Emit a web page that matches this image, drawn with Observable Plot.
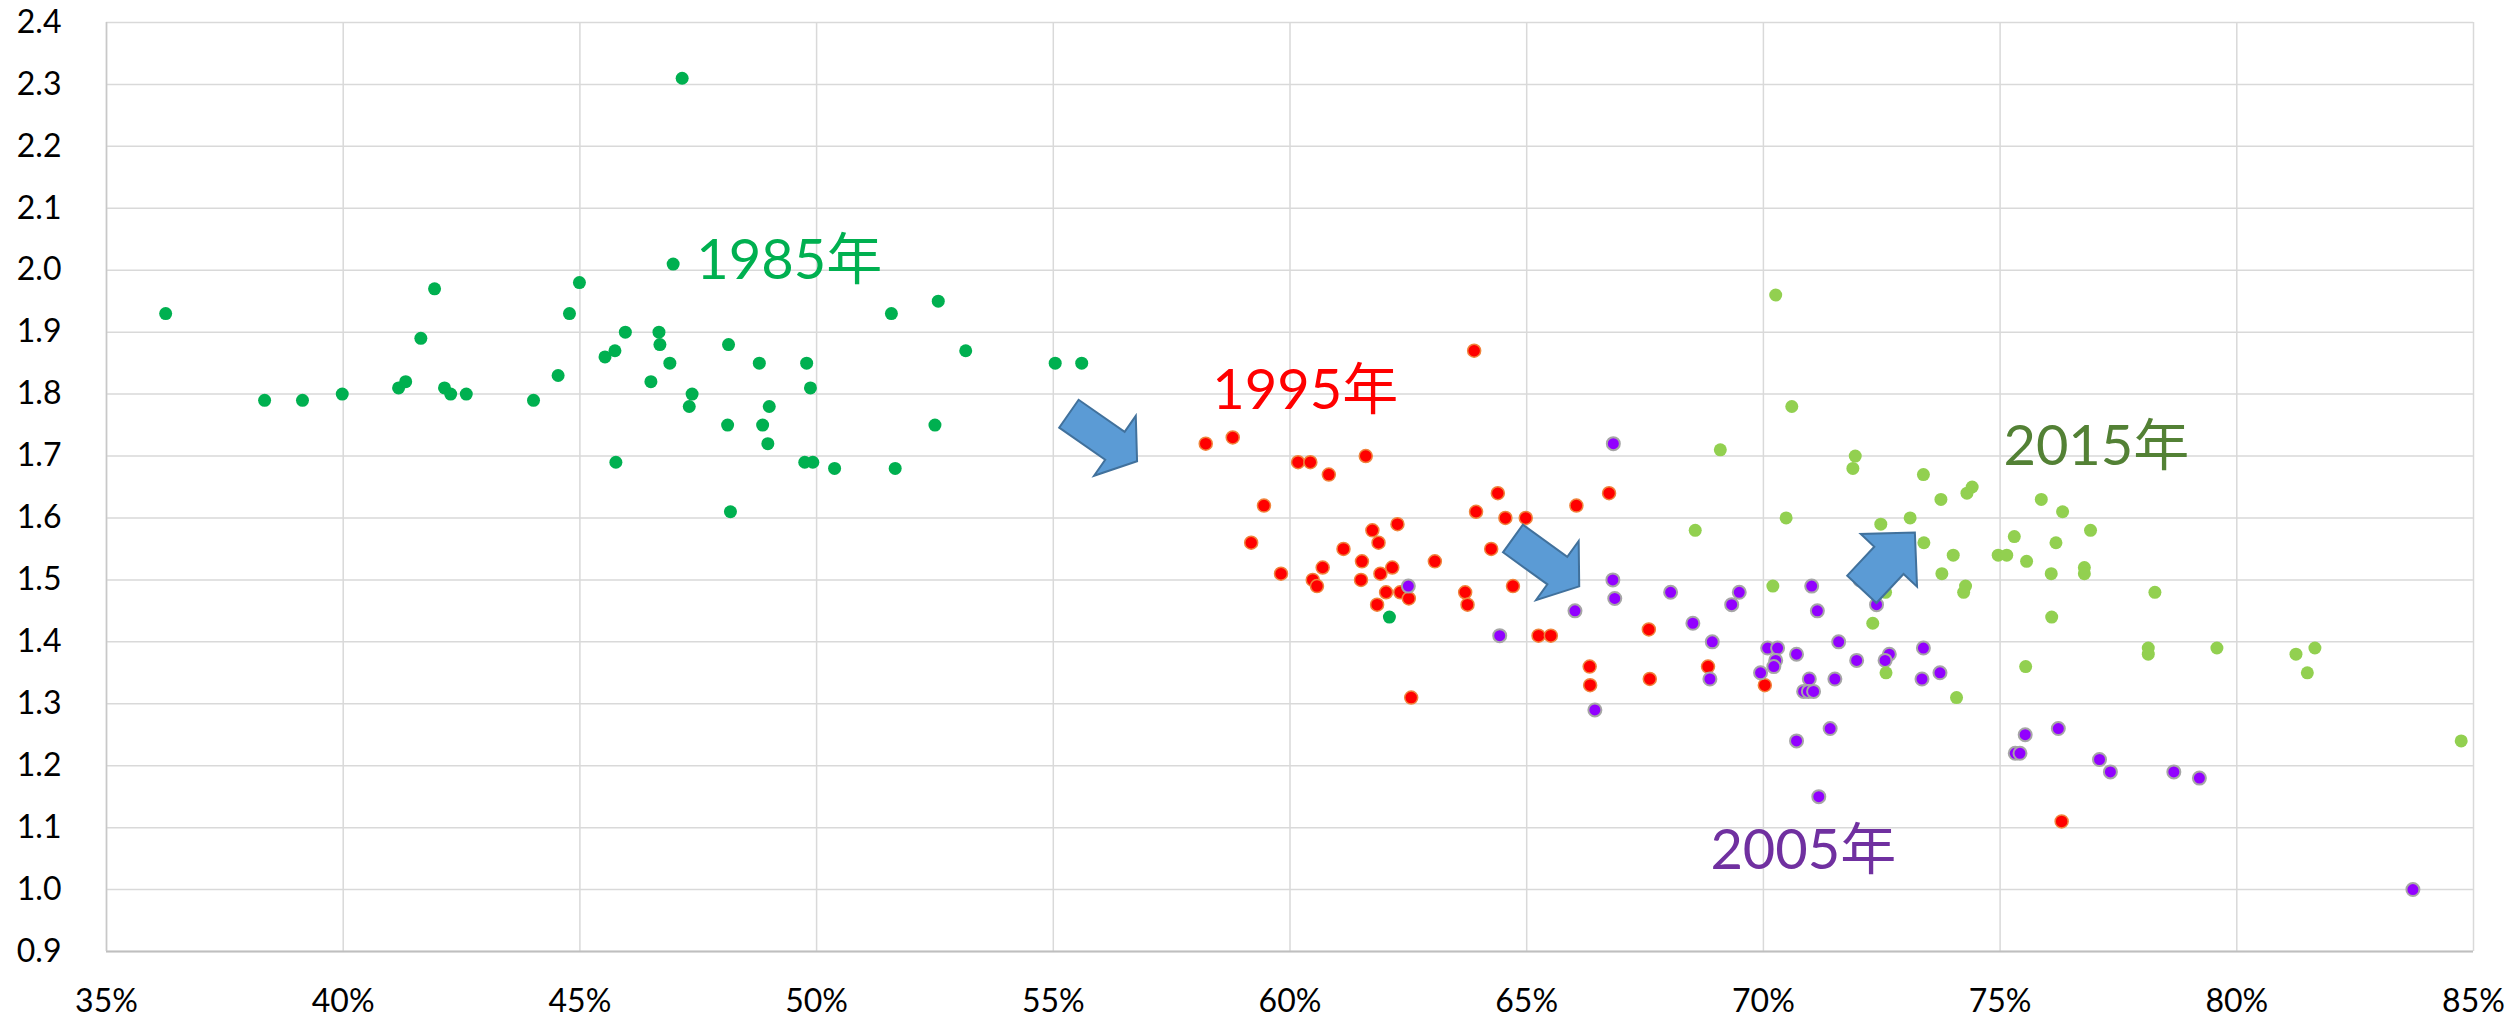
<!DOCTYPE html>
<html>
<head>
<meta charset="utf-8">
<script src="https://cdn.jsdelivr.net/npm/d3@7"></script>
<script src="https://cdn.jsdelivr.net/npm/@observablehq/plot@0.6"></script>
<style>
  html, body { margin: 0; padding: 0; background: #fff; overflow: hidden; }
  #chart svg { display: block; }
</style>
</head>
<body>
<div id="chart"></div>
<script>
// ---- Data (x in %, y value) ----
const x1985 = [36.25, 38.34, 39.14, 39.98, 41.17, 41.32, 41.64, 41.93, 42.14, 42.27, 42.60, 44.02, 44.54, 44.78, 44.99, 45.53, 45.74, 45.76, 45.96, 46.50, 46.67, 46.69, 46.90, 46.97, 47.16, 47.31, 47.37, 48.12, 48.14, 48.18, 48.79, 48.86, 48.97, 49.00, 49.75, 49.79, 49.87, 49.92, 50.38, 51.58, 51.66, 52.57, 53.15, 52.50, 55.04, 55.60, 62.10];
const y1985 = [1.93, 1.79, 1.79, 1.80, 1.81, 1.82, 1.89, 1.97, 1.81, 1.80, 1.80, 1.79, 1.83, 1.93, 1.98, 1.86, 1.87, 1.69, 1.90, 1.82, 1.90, 1.88, 1.85, 2.01, 2.31, 1.78, 1.80, 1.75, 1.88, 1.61, 1.85, 1.75, 1.72, 1.78, 1.69, 1.85, 1.81, 1.69, 1.68, 1.93, 1.68, 1.95, 1.87, 1.75, 1.85, 1.85, 1.44];

const x1995 = [58.22, 58.79, 60.17, 60.43, 61.60, 60.82, 63.89, 59.45, 64.39, 66.74, 63.93, 64.55, 64.98, 66.05, 62.27, 61.74, 61.87, 59.18, 61.13, 64.25, 61.52, 63.06, 60.69, 62.16, 59.81, 60.48, 61.50, 61.91, 60.57, 64.71, 62.03, 62.33, 62.51, 63.70, 61.84, 63.75, 65.25, 65.51, 66.33, 66.34, 67.58, 67.60, 62.56, 68.83, 70.03, 76.30];
const y1995 = [1.72, 1.73, 1.69, 1.69, 1.70, 1.67, 1.87, 1.62, 1.64, 1.64, 1.61, 1.60, 1.60, 1.62, 1.59, 1.58, 1.56, 1.56, 1.55, 1.55, 1.53, 1.53, 1.52, 1.52, 1.51, 1.50, 1.50, 1.51, 1.49, 1.49, 1.48, 1.48, 1.47, 1.48, 1.46, 1.46, 1.41, 1.41, 1.36, 1.33, 1.42, 1.34, 1.31, 1.36, 1.33, 1.11];

const x2005 = [62.50, 64.43, 66.02, 66.82, 66.86, 66.83, 66.44, 68.04, 68.51, 68.92, 69.33, 69.49, 68.87, 69.94, 70.09, 70.30, 70.26, 70.22, 70.70, 71.02, 71.14, 72.39, 71.59, 71.97, 72.66, 72.57, 73.38, 73.73, 73.35, 71.51, 70.97, 70.85, 70.95, 71.06, 71.41, 70.70, 71.17, 75.53, 76.23, 75.32, 75.42, 77.10, 77.33, 78.67, 79.21, 83.72, 72.04];
const y2005 = [1.49, 1.41, 1.45, 1.50, 1.47, 1.72, 1.29, 1.48, 1.43, 1.40, 1.46, 1.48, 1.34, 1.35, 1.39, 1.39, 1.37, 1.36, 1.38, 1.49, 1.45, 1.46, 1.40, 1.37, 1.38, 1.37, 1.39, 1.35, 1.34, 1.34, 1.34, 1.32, 1.32, 1.32, 1.26, 1.24, 1.15, 1.25, 1.26, 1.22, 1.22, 1.21, 1.19, 1.19, 1.18, 1.00, 1.50];

const x2015 = [68.56, 69.09, 70.26, 70.60, 70.48, 70.20, 71.94, 71.89, 72.48, 73.10, 73.38, 73.39, 73.75, 73.77, 74.01, 74.27, 74.23, 74.41, 74.30, 74.96, 75.14, 75.30, 75.56, 75.87, 76.32, 76.18, 76.91, 76.08, 76.78, 76.78, 78.27, 76.09, 72.31, 72.58, 72.59, 74.08, 75.54, 78.13, 78.13, 79.58, 81.25, 81.65, 81.49, 84.74];
const y2015 = [1.58, 1.71, 1.96, 1.78, 1.60, 1.49, 1.70, 1.68, 1.59, 1.60, 1.67, 1.56, 1.63, 1.51, 1.54, 1.49, 1.48, 1.65, 1.64, 1.54, 1.54, 1.57, 1.53, 1.63, 1.61, 1.56, 1.58, 1.51, 1.52, 1.51, 1.48, 1.44, 1.43, 1.48, 1.35, 1.31, 1.36, 1.39, 1.38, 1.39, 1.38, 1.39, 1.35, 1.24];

// tick values
const xTicks = [35, 40, 45, 50, 55, 60, 65, 70, 75, 80, 85];
const yTicks = [0.9, 1.0, 1.1, 1.2, 1.3, 1.4, 1.5, 1.6, 1.7, 1.8, 1.9, 2.0, 2.1, 2.2, 2.3, 2.4];

// annotation labels (anchor in data space)
const labelText = ["1985年", "1995年", "2005年", "2015年"];
const labelX = [47.46, 58.36, 68.88, 75.07];
const labelY = [2.015, 1.805, 1.062, 1.714];

// arrows (start -> end, in data space)
const arrowX1 = [55.34, 64.72, 72.09];
const arrowY1 = [1.7675, 1.566, 1.484];
const arrowX2 = [56.78, 66.12, 73.21];
const arrowY2 = [1.6908, 1.4888, 1.5756];

// ---- Styles ----
const labelColors = ["#00B050", "#FF0000", "#7030A0", "#538135"];
const arrowShape = [
  {tw: 34, hw: 73, hl: 27},
  {tw: 34, hw: 73, hl: 27},
  {tw: 40, hw: 77, hl: 38}
];

const pts = (xs, ys) => xs.map((x, i) => ({x, y: ys[i]}));
const d1985 = pts(x1985, y1985);
const d1995 = pts(x1995, y1995);
const d2005 = pts(x2005, y2005);
const d2015 = pts(x2015, y2015);
const labels = labelText.map((t, i) => ({t, x: labelX[i], y: labelY[i], c: labelColors[i]}));
const arrows = arrowX1.map((x1, i) => ({x1, y1: arrowY1[i], x2: arrowX2[i], y2: arrowY2[i], ...arrowShape[i]}));

function blockArrows(index, scales) {
  const g = d3.create("svg:g");
  for (const a of arrows) {
    const sx = scales.x(a.x1), sy = scales.y(a.y1);
    const ex = scales.x(a.x2), ey = scales.y(a.y2);
    const L = Math.hypot(ex - sx, ey - sy);
    const ux = (ex - sx) / L, uy = (ey - sy) / L;
    const nx = -uy, ny = ux;
    const bx = ex - ux * a.hl, by = ey - uy * a.hl;
    const P = [
      [sx + nx * a.tw / 2, sy + ny * a.tw / 2],
      [bx + nx * a.tw / 2, by + ny * a.tw / 2],
      [bx + nx * a.hw / 2, by + ny * a.hw / 2],
      [ex, ey],
      [bx - nx * a.hw / 2, by - ny * a.hw / 2],
      [bx - nx * a.tw / 2, by - ny * a.tw / 2],
      [sx - nx * a.tw / 2, sy - ny * a.tw / 2]
    ];
    g.append("polygon")
      .attr("points", P.map(p => p.join(",")).join(" "))
      .attr("fill", "#5B9BD5")
      .attr("stroke", "#41719C")
      .attr("stroke-width", 2)
      .attr("stroke-linejoin", "miter");
  }
  return g.node();
}

const fontFamily = "Lato, 'Noto Sans CJK JP', 'Noto Sans', sans-serif";

const chart = Plot.plot({
  width: 2517,
  height: 1018,
  marginLeft: 106,
  marginRight: 44,
  marginTop: 22,
  marginBottom: 67,
  style: {fontFamily, background: "#fff", color: "#000", overflow: "visible"},
  x: {domain: [35, 85], label: null},
  y: {domain: [0.9, 2.4], label: null},
  marks: [
    Plot.gridX(xTicks, {stroke: "#d9d9d9", strokeOpacity: 1, strokeWidth: 1.5}),
    Plot.gridY(yTicks, {stroke: "#d9d9d9", strokeOpacity: 1, strokeWidth: 1.5}),
    Plot.ruleY([0.9], {stroke: "#bfbfbf", strokeWidth: 2}),
    Plot.ruleX([35], {stroke: "#c8c8c8", strokeWidth: 1.5}),
    Plot.axisX(xTicks, {tickFormat: d => d + "%", tickSize: 0, tickPadding: 38, fontSize: 32, label: null}),
    Plot.axisY(yTicks, {tickFormat: d => d.toFixed(1), tickSize: 0, tickPadding: 45, fontSize: 32, label: null}),
    Plot.dot(d1985, {x: "x", y: "y", r: 6.5, fill: "#00B050"}),
    Plot.dot(d1995, {x: "x", y: "y", r: 6.5, fill: "#FF0000", stroke: "#F0843C", strokeWidth: 1.5}),
    Plot.dot(d2005, {x: "x", y: "y", r: 6.5, fill: "#9200FF", stroke: "#A6A6A6", strokeWidth: 2}),
    Plot.dot(d2015, {x: "x", y: "y", r: 6.5, fill: "#92D050"}),
    blockArrows,
    Plot.text(labels, {x: "x", y: "y", text: "t", fill: "c", fontSize: 56, textAnchor: "start", lineAnchor: "middle"})
  ]
});
document.getElementById("chart").appendChild(chart);
</script>
</body>
</html>
